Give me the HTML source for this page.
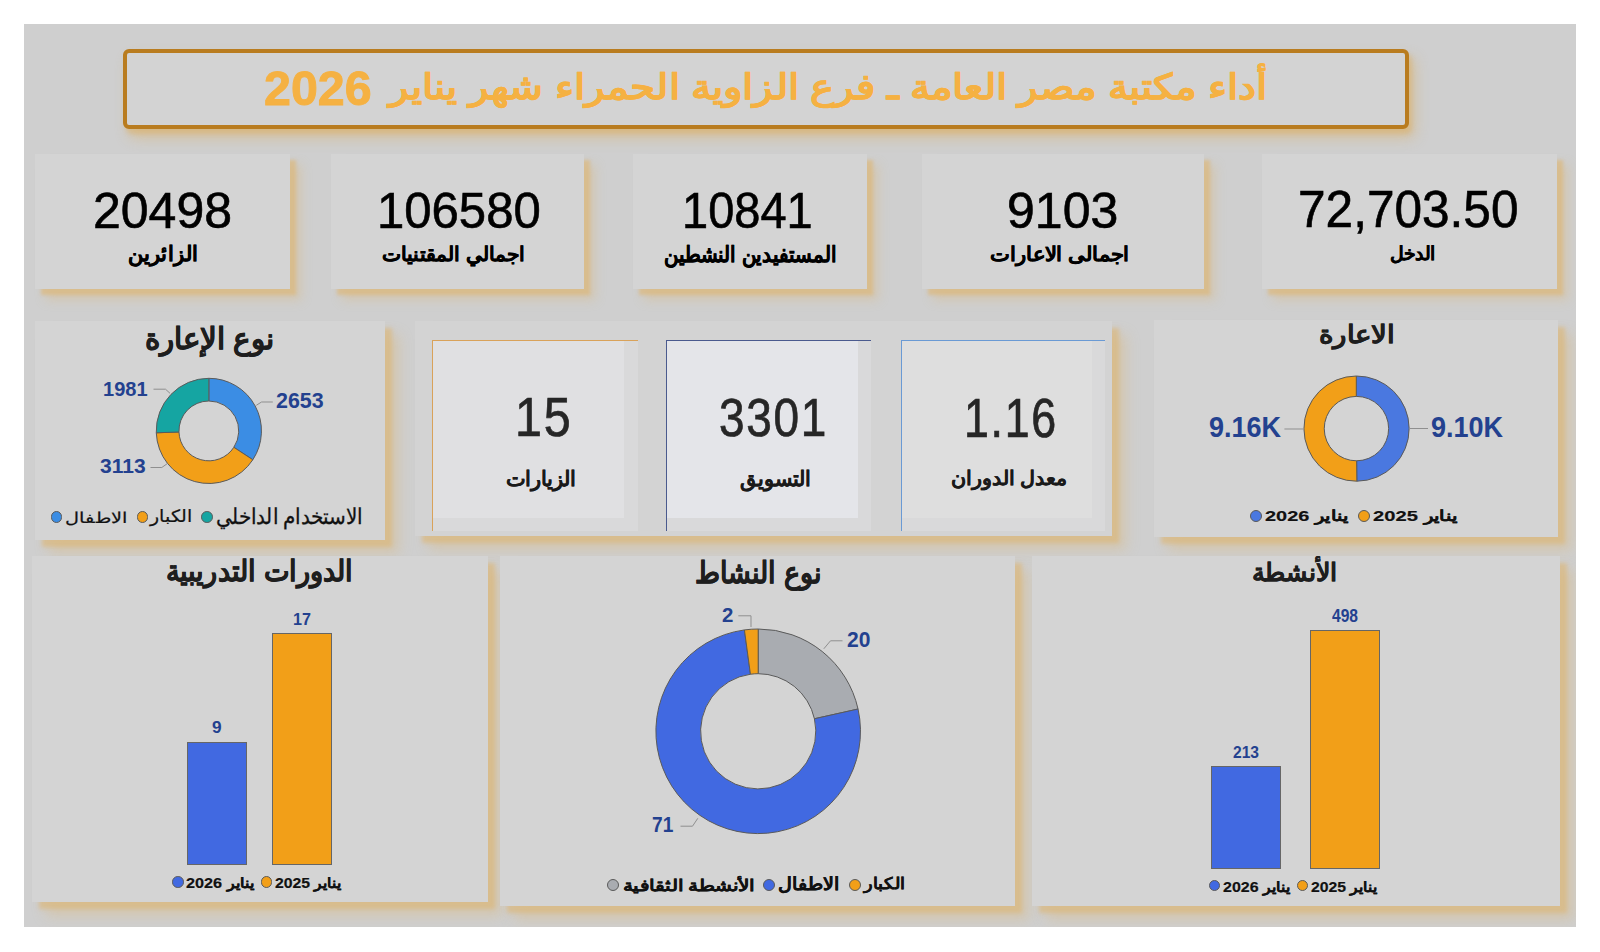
<!DOCTYPE html><html><head><meta charset="utf-8"><title>Dashboard</title><style>
*{margin:0;padding:0;box-sizing:border-box}
html,body{width:1600px;height:952px;overflow:hidden;background:#fff;font-family:"Liberation Sans",sans-serif;position:relative}
.abs{position:absolute}
.card{position:absolute;background:#d4d4d4;box-shadow: 6px 6px 3px rgba(220,182,118,0.6), 11px 11px 10px rgba(220,182,118,0.35);}
.x{position:absolute;white-space:nowrap;line-height:1;transform-origin:0 0}
.dot{position:absolute;border-radius:50%;border:1.3px solid #5a5a5a}
svg{position:absolute;left:0;top:0}
</style></head><body>
<div class="abs" style="left:24px;top:24px;width:1552px;height:903px;background:#cfcfcf"></div>
<div class="abs" style="left:123px;top:49px;width:1286px;height:80px;border:4px solid #b97c1f;border-radius:6px;background:#d3d3d3;box-shadow:3px 5px 4px rgba(220,175,100,0.45), 6px 9px 14px rgba(220,175,100,0.45)"></div>
<div class="card" style="left:35px;top:154px;width:255px;height:135px"></div>
<div class="card" style="left:331px;top:154px;width:253px;height:135px"></div>
<div class="card" style="left:633px;top:154px;width:234px;height:135px"></div>
<div class="card" style="left:922px;top:154px;width:282px;height:135px"></div>
<div class="card" style="left:1262px;top:154px;width:295px;height:135px"></div>
<div class="card" style="left:35px;top:321px;width:350px;height:219px;box-shadow: 7px 7px 4px rgba(220,182,118,0.6), 14px 14px 12px rgba(220,182,118,0.35)"></div>
<div class="card" style="left:415px;top:321px;width:697px;height:215px;background:#d3d3d3;box-shadow: 7px 7px 4px rgba(220,182,118,0.6), 14px 14px 12px rgba(220,182,118,0.35)"></div>
<div class="abs" style="left:432px;top:340px;width:206px;height:191px;background:#d9d9da"></div>
<div class="abs" style="left:432px;top:340px;width:192px;height:178px;background:#e0e0e2"></div>
<div class="abs" style="left:432px;top:340px;width:206px;height:1px;background:#d9a25a"></div>
<div class="abs" style="left:432px;top:340px;width:1px;height:191px;background:#d9a25a"></div>
<div class="abs" style="left:666px;top:340px;width:205px;height:191px;background:#d9d9da"></div>
<div class="abs" style="left:666px;top:340px;width:192px;height:178px;background:#e4e5e9"></div>
<div class="abs" style="left:666px;top:340px;width:205px;height:1px;background:#4a5a8e"></div>
<div class="abs" style="left:666px;top:340px;width:1px;height:191px;background:#4a5a8e"></div>
<div class="abs" style="left:901px;top:340px;width:204px;height:191px;background:#d9d9da"></div>
<div class="abs" style="left:901px;top:340px;width:191px;height:178px;background:#dedede"></div>
<div class="abs" style="left:901px;top:340px;width:204px;height:1px;background:#6a9ad4"></div>
<div class="abs" style="left:901px;top:340px;width:1px;height:191px;background:#6a9ad4"></div>
<div class="card" style="left:1154px;top:320px;width:404px;height:217px;box-shadow: 7px 7px 4px rgba(220,182,118,0.6), 14px 14px 12px rgba(220,182,118,0.35)"></div>
<div class="card" style="left:32px;top:556px;width:456px;height:346px;box-shadow: 7px 7px 4px rgba(220,182,118,0.6), 14px 14px 12px rgba(220,182,118,0.35)"></div>
<div class="card" style="left:500px;top:556px;width:515px;height:350px;box-shadow: 7px 7px 4px rgba(220,182,118,0.6), 14px 14px 12px rgba(220,182,118,0.35)"></div>
<div class="card" style="left:1032px;top:556px;width:528px;height:350px;box-shadow: 7px 7px 4px rgba(220,182,118,0.6), 14px 14px 12px rgba(220,182,118,0.35)"></div>
<div class="abs" style="left:187px;top:742px;width:60px;height:123px;background:#4169e1;border:1px solid #666"></div>
<div class="abs" style="left:272px;top:633px;width:60px;height:232px;background:#f29f18;border:1px solid #666"></div>
<div class="abs" style="left:1211px;top:766px;width:70px;height:103px;background:#4169e1;border:1px solid #666"></div>
<div class="abs" style="left:1310px;top:630px;width:70px;height:239px;background:#f29f18;border:1px solid #666"></div>
<svg width="1600" height="952"><path d="M208.85,378.30A52.6,52.6 0 0 1 252.82,459.77L233.85,447.31A29.9,29.9 0 0 0 208.85,401.00Z" fill="#3b8de4" stroke="#5a5a5a" stroke-width="1"/><path d="M252.82,459.77A52.6,52.6 0 0 1 156.28,432.79L178.97,431.97A29.9,29.9 0 0 0 233.85,447.31Z" fill="#f29f18" stroke="#5a5a5a" stroke-width="1"/><path d="M156.28,432.79A52.6,52.6 0 0 1 208.85,378.30L208.85,401.00A29.9,29.9 0 0 0 178.97,431.97Z" fill="#15a5a2" stroke="#5a5a5a" stroke-width="1"/><path d="M1356.30,376.00A52.6,52.6 0 0 1 1356.84,481.20L1356.63,460.80A32.2,32.2 0 0 0 1356.30,396.40Z" fill="#4a78e0" stroke="#5a5a5a" stroke-width="1"/><path d="M1356.84,481.20A52.6,52.6 0 1 1 1356.30,376.00L1356.30,396.40A32.2,32.2 0 1 0 1356.63,460.80Z" fill="#f29f18" stroke="#5a5a5a" stroke-width="1"/><path d="M758.20,629.00A102.3,102.3 0 0 1 858.04,709.02L814.42,718.75A57.6,57.6 0 0 0 758.20,673.70Z" fill="#a9acb1" stroke="#5a5a5a" stroke-width="1"/><path d="M858.04,709.02A102.3,102.3 0 1 1 744.42,629.93L750.44,674.23A57.6,57.6 0 1 0 814.42,718.75Z" fill="#4169e1" stroke="#5a5a5a" stroke-width="1"/><path d="M744.42,629.93A102.3,102.3 0 0 1 758.20,629.00L758.20,673.70A57.6,57.6 0 0 0 750.44,674.23Z" fill="#f29f18" stroke="#5a5a5a" stroke-width="1"/><polyline points="153.5,389.2 165.5,389.2 170,393.3" fill="none" stroke="#8f8f8f" stroke-width="1"/><polyline points="256.3,405.3 261.5,402 272.8,402" fill="none" stroke="#8f8f8f" stroke-width="1"/><polyline points="150.5,467.5 161.8,467.5 167,463.8" fill="none" stroke="#8f8f8f" stroke-width="1"/><polyline points="1284.4,429 1303,429" fill="none" stroke="#8f8f8f" stroke-width="1"/><polyline points="1410,428.5 1428,428.5" fill="none" stroke="#8f8f8f" stroke-width="1"/><polyline points="738.3,615.8 751,615.8 751,627" fill="none" stroke="#8f8f8f" stroke-width="1"/><polyline points="823.8,648.8 830.5,640.8 842.5,640.8" fill="none" stroke="#8f8f8f" stroke-width="1"/><polyline points="680.5,826.2 692.5,826.2 697.8,818.3" fill="none" stroke="#8f8f8f" stroke-width="1"/></svg>
<div class="dot" style="left:50.8px;top:511.1px;width:11.7px;height:11.7px;background:#3b8de4"></div>
<div class="dot" style="left:136.6px;top:511.1px;width:11.7px;height:11.7px;background:#f29f18"></div>
<div class="dot" style="left:201.0px;top:511.1px;width:11.7px;height:11.7px;background:#15a5a2"></div>
<div class="dot" style="left:1250.0px;top:509.7px;width:12.2px;height:12.2px;background:#4a78e0"></div>
<div class="dot" style="left:1358.2px;top:509.7px;width:12.2px;height:12.2px;background:#f29f18"></div>
<div class="dot" style="left:172.2px;top:876.4px;width:11.6px;height:11.6px;background:#4169e1"></div>
<div class="dot" style="left:260.7px;top:876.4px;width:11.6px;height:11.6px;background:#f29f18"></div>
<div class="dot" style="left:606.8px;top:878.8px;width:12.4px;height:12.4px;background:#a9acb1"></div>
<div class="dot" style="left:762.8px;top:878.8px;width:12.4px;height:12.4px;background:#4169e1"></div>
<div class="dot" style="left:848.8px;top:878.8px;width:12.4px;height:12.4px;background:#f29f18"></div>
<div class="dot" style="left:1209.1px;top:880.1px;width:11.3px;height:11.3px;background:#4169e1"></div>
<div class="dot" style="left:1297.0px;top:880.1px;width:11.3px;height:11.3px;background:#f29f18"></div>
<div class="abs" style="left:1576px;top:0;width:24px;height:952px;background:#fff"></div>
<div class="abs" style="left:0;top:927px;width:1600px;height:25px;background:#fff"></div>
<div class="abs" style="left:0;top:0;width:1600px;height:24px;background:#fff"></div>
<div class="abs" style="left:0;top:0;width:24px;height:952px;background:#fff"></div>
<div class="x" style="font-weight:bold;color:#f5b142;-webkit-text-stroke:0.9px #f5b142;left:263.95px;top:64.2px;font-size:46px;transform:scale(1.0506,1.0446)">2026</div>
<div class="x" style="font-weight:bold;color:#f5b142;direction:rtl;-webkit-text-stroke:0.25px #f5b142;left:388.62px;top:68.73px;font-size:40px;transform:scale(1.0083,0.8698)">أداء مكتبة مصر العامة ـ فرع الزاوية الحمراء شهر يناير</div>
<div class="x" style="color:#000;-webkit-text-stroke:0.6px #000;left:93.0px;top:186.0px;font-size:50px;transform:scale(1.0,1.0)">20498</div>
<div class="x" style="color:#000;-webkit-text-stroke:0.6px #000;left:376.56px;top:186.0px;font-size:50px;transform:scale(0.9814,1.0)">106580</div>
<div class="x" style="color:#000;-webkit-text-stroke:0.6px #000;left:682.23px;top:186.0px;font-size:50px;transform:scale(0.9399,1.0)">10841</div>
<div class="x" style="color:#000;-webkit-text-stroke:0.6px #000;left:1006.78px;top:185.8px;font-size:50px;transform:scale(1.0003,1.0)">9103</div>
<div class="x" style="color:#000;-webkit-text-stroke:0.6px #000;left:1298.38px;top:184.17px;font-size:50px;transform:scale(0.9912,1.0181)">72,703.50</div>
<div class="x" style="font-weight:bold;color:#000;direction:rtl;-webkit-text-stroke:0.35px #000;left:127.95px;top:242.95px;font-size:20px;transform:scale(1.0462,1.0496)">الزائرين</div>
<div class="x" style="font-weight:bold;color:#000;direction:rtl;-webkit-text-stroke:0.35px #000;left:382.49px;top:244.0px;font-size:20px;transform:scale(1.0143,1.0021)">اجمالي المقتنيات</div>
<div class="x" style="font-weight:bold;color:#000;direction:rtl;-webkit-text-stroke:0.35px #000;left:663.76px;top:242.6px;font-size:20px;transform:scale(0.9881,1.1009)">المستفيدين النشطين</div>
<div class="x" style="font-weight:bold;color:#000;direction:rtl;-webkit-text-stroke:0.35px #000;left:989.69px;top:243.87px;font-size:20px;transform:scale(1.038,0.9869)">اجمالى الاعارات</div>
<div class="x" style="font-weight:bold;color:#000;direction:rtl;-webkit-text-stroke:0.35px #000;left:1389.74px;top:243.78px;font-size:20px;transform:scale(0.9202,0.9296)">الدخل</div>
<div class="x" style="font-weight:bold;color:#1e1e1e;direction:rtl;-webkit-text-stroke:0.25px #1e1e1e;left:145.07px;top:325.02px;font-size:27px;transform:scale(1.0855,1.1125)">نوع الإعارة</div>
<div class="x" style="font-weight:bold;color:#1e1e1e;direction:rtl;-webkit-text-stroke:0.25px #1e1e1e;left:1318.88px;top:323.14px;font-size:27px;transform:scale(1.0288,0.9309)">الاعارة</div>
<div class="x" style="font-weight:bold;color:#1e1e1e;direction:rtl;-webkit-text-stroke:0.25px #1e1e1e;left:166.48px;top:557.47px;font-size:27px;transform:scale(1.011,1.0795)">الدورات التدريبية</div>
<div class="x" style="font-weight:bold;color:#1e1e1e;direction:rtl;-webkit-text-stroke:0.25px #1e1e1e;left:695.0px;top:558.73px;font-size:27px;transform:scale(1.0,1.1104)">نوع النشاط</div>
<div class="x" style="font-weight:bold;color:#1e1e1e;direction:rtl;-webkit-text-stroke:0.25px #1e1e1e;left:1252.41px;top:561.4px;font-size:27px;transform:scale(0.9434,0.9308)">الأنشطة</div>
<div class="x" style="color:#262626;letter-spacing:2px;-webkit-text-stroke:0.7px #262626;left:514.68px;top:389.34px;font-size:54px;transform:scale(0.8976,1.0325)">15</div>
<div class="x" style="color:#262626;letter-spacing:2px;-webkit-text-stroke:0.7px #262626;left:719.09px;top:389.84px;font-size:54px;transform:scale(0.8513,1.0014)">3301</div>
<div class="x" style="color:#262626;letter-spacing:2px;-webkit-text-stroke:0.7px #262626;left:964.25px;top:389.66px;font-size:54px;transform:scale(0.8293,1.0264)">1.16</div>
<div class="x" style="font-weight:bold;color:#1a1a1a;direction:rtl;-webkit-text-stroke:0.1px #1a1a1a;left:505.91px;top:467.75px;font-size:21px;transform:scale(0.9717,0.9774)">الزيارات</div>
<div class="x" style="font-weight:bold;color:#1a1a1a;direction:rtl;-webkit-text-stroke:0.1px #1a1a1a;left:740.2px;top:468.27px;font-size:21px;transform:scale(0.9859,1.0036)">التسويق</div>
<div class="x" style="font-weight:bold;color:#1a1a1a;direction:rtl;-webkit-text-stroke:0.1px #1a1a1a;left:951.48px;top:468.34px;font-size:21px;transform:scale(0.9914,0.9611)">معدل الدوران</div>
<div class="x" style="font-weight:bold;color:#23418f;left:102.67px;top:378.84px;font-size:20px;transform:scale(1.0008,1.0091)">1981</div>
<div class="x" style="font-weight:bold;color:#23418f;left:276.14px;top:390.24px;font-size:20px;transform:scale(1.0708,1.0842)">2653</div>
<div class="x" style="font-weight:bold;color:#23418f;left:99.58px;top:456.1px;font-size:20px;transform:scale(1.0513,1.0091)">3113</div>
<div class="x" style="font-weight:bold;color:#23418f;left:1208.62px;top:414.33px;font-size:27px;transform:scale(1.0012,1.0593)">9.16K</div>
<div class="x" style="font-weight:bold;color:#23418f;left:1430.96px;top:414.33px;font-size:27px;transform:scale(1.0008,1.0593)">9.10K</div>
<div class="x" style="font-weight:bold;color:#23418f;left:722.04px;top:605.23px;font-size:20px;transform:scale(1.0205,1.0026)">2</div>
<div class="x" style="font-weight:bold;color:#23418f;left:846.66px;top:628.45px;font-size:20px;transform:scale(1.0513,1.1235)">20</div>
<div class="x" style="font-weight:bold;color:#23418f;left:651.74px;top:813.75px;font-size:20px;transform:scale(0.9567,1.0842)">71</div>
<div class="x" style="font-weight:bold;color:#23418f;left:212.03px;top:719.48px;font-size:15px;transform:scale(1.1508,1.0849)">9</div>
<div class="x" style="font-weight:bold;color:#23418f;left:292.64px;top:610.67px;font-size:15px;transform:scale(1.075,1.0863)">17</div>
<div class="x" style="font-weight:bold;color:#23418f;left:1233.0px;top:743.63px;font-size:15px;transform:scale(1.04,1.077)">213</div>
<div class="x" style="font-weight:bold;color:#23418f;left:1331.79px;top:606.82px;font-size:15px;transform:scale(1.04,1.17)">498</div>
<div class="x" style="color:#111;direction:rtl;-webkit-text-stroke:0.25px #111;left:64.98px;top:509.71px;font-size:19px;transform:scale(1.0169,0.7891)">الاطفال</div>
<div class="x" style="color:#111;direction:rtl;-webkit-text-stroke:0.25px #111;left:150.38px;top:508.1px;font-size:19px;transform:scale(0.9773,0.879)">الكبار</div>
<div class="x" style="color:#111;direction:rtl;-webkit-text-stroke:0.25px #111;left:215.78px;top:506.15px;font-size:19px;transform:scale(1.0284,1.1315)">الاستخدام الداخلي</div>
<div class="x" style="font-weight:bold;color:#111;direction:rtl;-webkit-text-stroke:0.2px #111;left:1265.21px;top:508.22px;font-size:19px;transform:scale(1.05,0.8131)">يناير 2026</div>
<div class="x" style="font-weight:bold;color:#111;direction:rtl;-webkit-text-stroke:0.2px #111;left:1373.0px;top:508.22px;font-size:19px;transform:scale(1.0625,0.8131)">يناير 2025</div>
<div class="x" style="font-weight:bold;color:#111;direction:rtl;-webkit-text-stroke:0.2px #111;left:186.38px;top:875.91px;font-size:16px;transform:scale(1.0148,0.8914)">يناير 2026</div>
<div class="x" style="font-weight:bold;color:#111;direction:rtl;-webkit-text-stroke:0.2px #111;left:274.88px;top:875.91px;font-size:16px;transform:scale(0.9861,0.8914)">يناير 2025</div>
<div class="x" style="font-weight:bold;color:#111;direction:rtl;-webkit-text-stroke:0.2px #111;left:622.95px;top:877.63px;font-size:19px;transform:scale(1.0323,0.8233)">الأنشطة الثقافية</div>
<div class="x" style="font-weight:bold;color:#111;direction:rtl;-webkit-text-stroke:0.2px #111;left:777.97px;top:875.24px;font-size:19px;transform:scale(1.0011,0.9444)">الاطفال</div>
<div class="x" style="font-weight:bold;color:#111;direction:rtl;-webkit-text-stroke:0.2px #111;left:863.91px;top:875.32px;font-size:19px;transform:scale(0.9545,0.8619)">الكبار</div>
<div class="x" style="font-weight:bold;color:#111;direction:rtl;-webkit-text-stroke:0.2px #111;left:1222.6px;top:879.62px;font-size:16px;transform:scale(1.0002,0.8914)">يناير 2026</div>
<div class="x" style="font-weight:bold;color:#111;direction:rtl;-webkit-text-stroke:0.2px #111;left:1311.0px;top:879.62px;font-size:16px;transform:scale(0.9861,0.8914)">يناير 2025</div>
</body></html>
